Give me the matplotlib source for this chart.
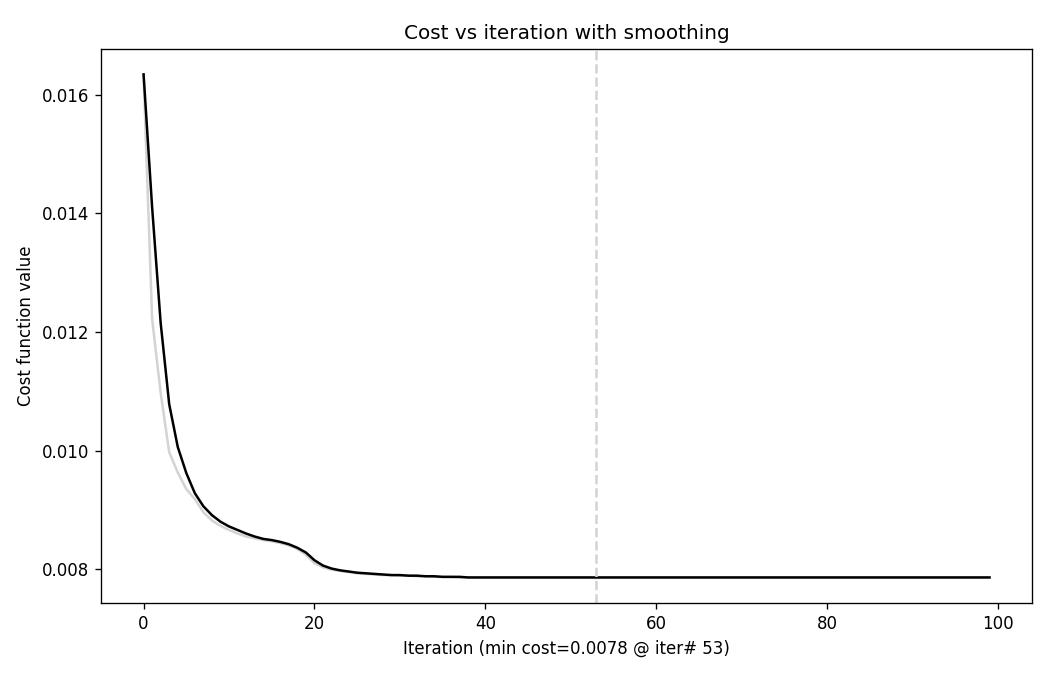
import matplotlib
matplotlib.use("Agg")
import matplotlib.pyplot as plt

# raw cost per iteration (light grey) and smoothed cost (black)
iterations = list(range(100))

cost_raw = [
    0.01634, 0.01222, 0.01097, 0.00997, 0.00963, 0.00935, 0.00918, 0.00896, 0.00882, 0.00873,
    0.00866, 0.00860, 0.00855, 0.00852, 0.00849, 0.00847, 0.00844, 0.00840, 0.00834, 0.00824,
    0.00810, 0.00803, 0.00799, 0.00797, 0.00795, 0.00793, 0.00792, 0.00791, 0.00790, 0.00790,
    0.00789, 0.00789, 0.00788, 0.00788, 0.00787, 0.00787, 0.00787, 0.00786, 0.00786, 0.00786,
    0.00786, 0.00786, 0.00786, 0.00786, 0.00786, 0.00786, 0.00786, 0.00786, 0.00786, 0.00786,
    0.00786, 0.00786, 0.00786, 0.00785, 0.00786, 0.00786, 0.00786, 0.00786, 0.00786, 0.00786,
    0.00786, 0.00786, 0.00786, 0.00786, 0.00786, 0.00786, 0.00786, 0.00786, 0.00786, 0.00786,
    0.00786, 0.00786, 0.00786, 0.00786, 0.00786, 0.00786, 0.00786, 0.00786, 0.00786, 0.00786,
    0.00786, 0.00786, 0.00786, 0.00786, 0.00786, 0.00786, 0.00786, 0.00786, 0.00786, 0.00786,
    0.00786, 0.00786, 0.00786, 0.00786, 0.00786, 0.00786, 0.00786, 0.00786, 0.00786, 0.00786,
]

cost_smooth = [
    0.01634, 0.01410, 0.01215, 0.01078, 0.01006, 0.00962, 0.00928, 0.00906, 0.00891, 0.00880,
    0.00872, 0.00866, 0.00860, 0.00855, 0.00851, 0.00849, 0.00846, 0.00842, 0.00836, 0.00828,
    0.00815, 0.00806, 0.00801, 0.00798, 0.00796, 0.00794, 0.00793, 0.00792, 0.00791, 0.00790,
    0.00790, 0.00789, 0.00789, 0.00788, 0.00788, 0.00787, 0.00787, 0.00787, 0.00786, 0.00786,
    0.00786, 0.00786, 0.00786, 0.00786, 0.00786, 0.00786, 0.00786, 0.00786, 0.00786, 0.00786,
    0.00786, 0.00786, 0.00786, 0.00786, 0.00786, 0.00786, 0.00786, 0.00786, 0.00786, 0.00786,
    0.00786, 0.00786, 0.00786, 0.00786, 0.00786, 0.00786, 0.00786, 0.00786, 0.00786, 0.00786,
    0.00786, 0.00786, 0.00786, 0.00786, 0.00786, 0.00786, 0.00786, 0.00786, 0.00786, 0.00786,
    0.00786, 0.00786, 0.00786, 0.00786, 0.00786, 0.00786, 0.00786, 0.00786, 0.00786, 0.00786,
    0.00786, 0.00786, 0.00786, 0.00786, 0.00786, 0.00786, 0.00786, 0.00786, 0.00786, 0.00786,
]

min_iter = 53
min_cost = 0.0078

# notebook render: 120 dpi, cropped to 1055x674
fig = plt.figure(figsize=(1055 / 120, 674 / 120), dpi=120)
ax = fig.add_axes([0.096, 0.105, 0.882, 0.822])

ax.plot(iterations, cost_raw, color='lightgray', linewidth=1.5)
ax.plot(iterations, cost_smooth, color='black', linewidth=1.5)
ax.axvline(min_iter, color='lightgray', linestyle='--', linewidth=1.5)

ax.set_title('Cost vs iteration with smoothing')
ax.set_xlabel('Iteration (min cost=%.4f @ iter# %d)' % (min_cost, min_iter))
ax.set_ylabel('Cost function value')

fig.savefig('out.png', dpi=120)
